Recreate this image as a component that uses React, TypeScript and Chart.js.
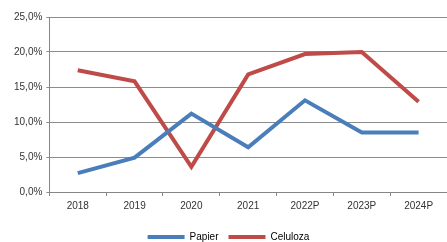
import React, { useEffect, useRef } from "react";
import { Chart, registerables } from "chart.js";

Chart.register(...registerables);

const categories = ["2018", "2019", "2020", "2021", "2022P", "2023P", "2024P"];
const papier = [2.7, 4.9, 11.2, 6.4, 13.1, 8.5, 8.5];
const celuloza = [17.4, 15.8, 3.6, 16.8, 19.7, 20.0, 12.9];
const seriesNames = ["Papier", "Celuloza"];
const seriesColors = ["#4A7EBB", "#BE4B48"];

export default function App() {
  const ref = useRef<HTMLCanvasElement | null>(null);
  useEffect(() => {
    document.body.style.margin = "0";
    const ctx = ref.current!;
    const chart = new Chart(ctx, {
      type: "line",
      data: {
        labels: categories,
        datasets: [
          { label: seriesNames[0], data: papier, borderColor: seriesColors[0], backgroundColor: seriesColors[0], borderWidth: 4, pointRadius: 0, tension: 0 },
          { label: seriesNames[1], data: celuloza, borderColor: seriesColors[1], backgroundColor: seriesColors[1], borderWidth: 4, pointRadius: 0, tension: 0 },
        ],
      },
      options: {
        animation: false,
        responsive: false,
        layout: { padding: { top: 17, left: 10, right: 0, bottom: 0 } },
        plugins: {
          tooltip: { enabled: false },
          legend: {
            position: "bottom",
            labels: {
              color: "#333",
              font: { family: "Liberation Sans", size: 10 },
              boxWidth: 37,
              boxHeight: 4,
              padding: 10,
              generateLabels: (c: any) =>
                c.data.datasets.map((d: any, i: number) => ({
                  text: d.label,
                  fillStyle: d.borderColor,
                  strokeStyle: d.borderColor,
                  lineWidth: 0,
                  datasetIndex: i,
                  hidden: false,
                })),
            },
          },
        },
        scales: {
          x: {
            offset: true,
            grid: { offset: true, drawOnChartArea: false, drawTicks: true, tickLength: 4, color: "#868686" },
            border: { color: "#868686", width: 1 },
            ticks: { color: "#333", font: { family: "Liberation Sans", size: 10 }, padding: 4, maxRotation: 0 },
            afterFit: (s: any) => {
              s.height = 30;
            },
          },
          y: {
            min: 0,
            max: 25,
            grid: { color: "#8C8C8C", lineWidth: 1, tickLength: 3 },
            border: { color: "#868686", width: 1 },
            ticks: {
              stepSize: 5,
              color: "#333",
              font: { family: "Liberation Sans", size: 10 },
              padding: 4,
              callback: (v: any) => Number(v).toFixed(1).replace(".", ",") + "%",
            },
          },
        },
      },
    });
    return () => chart.destroy();
  }, []);
  return (
    <div style={{ width: 447, height: 242, overflow: "hidden" }}>
      <canvas ref={ref} width={447} height={252} style={{ display: "block" }} />
    </div>
  );
}
